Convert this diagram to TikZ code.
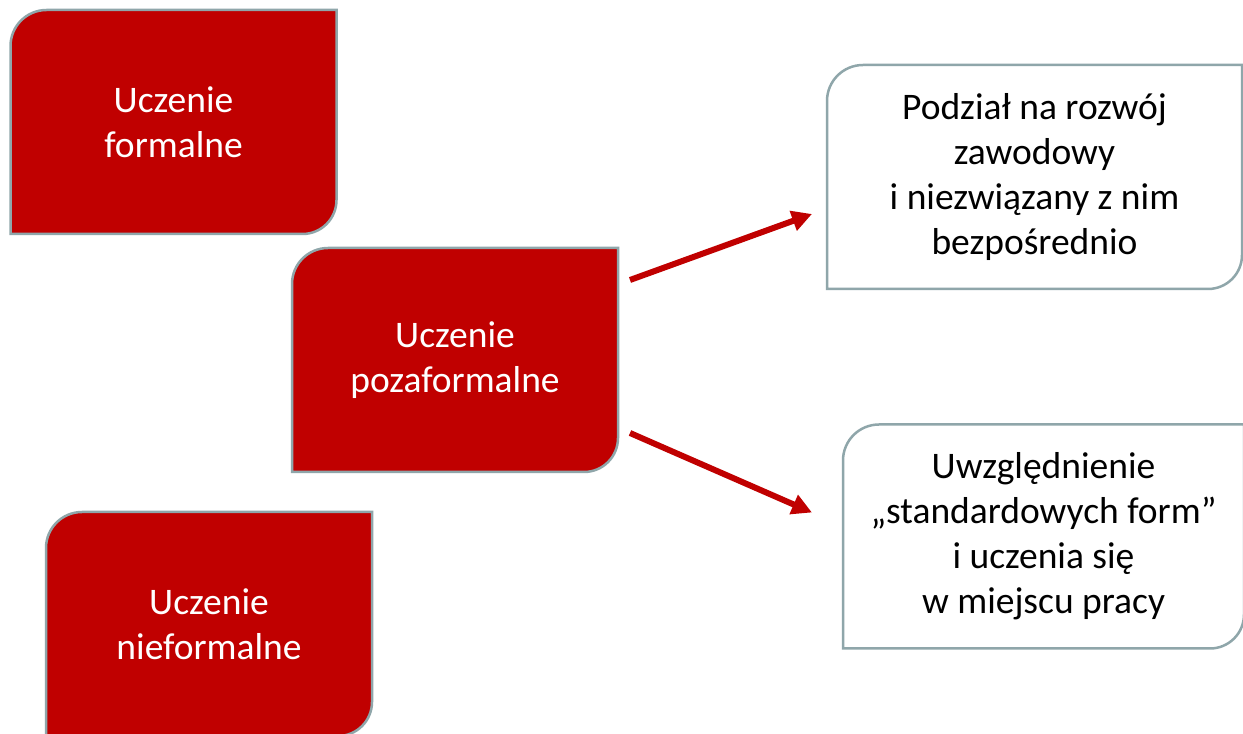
\documentclass[tikz,border=0pt]{standalone}
\usepackage{fontspec}
\setmainfont{Carlito}
\usetikzlibrary{arrows.meta}
\usetikzlibrary{backgrounds}
\usetikzlibrary{positioning}

\definecolor{leafred}{RGB}{192,0,0}
\definecolor{leafgray}{RGB}{143,166,170}

\tikzset{
  leafbox/.style={rectangle,inner sep=0pt,outer sep=0pt,align=center,
    minimum height=224pt,font=\fontsize{37.5}{45}\selectfont},
  redbox/.style={leafbox,text=white,minimum width=326pt},
  whitebox/.style={leafbox,text=black},
  redfill/.style={fill=leafred,draw=leafgray,line width=2.5pt},
  whitefill/.style={fill=white,draw=leafgray,line width=2.5pt},
  link/.style={draw=leafred,line width=6pt,-{Triangle[length=20pt,width=20pt]}}
}

\newcommand{\leafpath}[2]{%
  \draw[#1] (#2.south west) -- ([yshift=-36pt]#2.north west)
    arc[start angle=180,end angle=90,radius=36pt]
    -- (#2.north east) -- ([yshift=34pt]#2.south east)
    arc[start angle=0,end angle=-90,radius=34pt] -- cycle;}

\begin{document}
\begin{tikzpicture}[x=1pt,y=1pt]
\useasboundingbox (0,0) rectangle (1243,734);

\node[redbox] (formal) at (173.5,612) {Uczenie\\formalne};
\node[redbox] (nonformal) at (455,374) {Uczenie\\pozaformalne};
\node[redbox] (informal) at (209,110) {Uczenie\\nieformalne};
\node[whitebox,minimum width=415pt] (split) at (1034.5,557)
  {Podział na rozwój\\zawodowy\\i niezwiązany z nim\\bezpośrednio};
\node[whitebox,minimum width=401pt] (workplace) at (1043.5,197.5)
  {Uwzględnienie\\„standardowych form”\\i uczenia się\\w miejscu pracy};

\begin{scope}[on background layer]
\fill[white] (0,0) rectangle (1243,734);
\leafpath{redfill}{formal}
\leafpath{redfill}{nonformal}
\leafpath{redfill}{informal}
\leafpath{whitefill}{split}
\leafpath{whitefill}{workplace}
\end{scope}

\draw[link] ([shift={(12pt,80pt)}]nonformal.east) -- ([shift={(-15pt,-37pt)}]split.west);
\draw[link] ([shift={(12pt,-73pt)}]nonformal.east) -- ([shift={(-31pt,24pt)}]workplace.west);

\end{tikzpicture}
\end{document}
